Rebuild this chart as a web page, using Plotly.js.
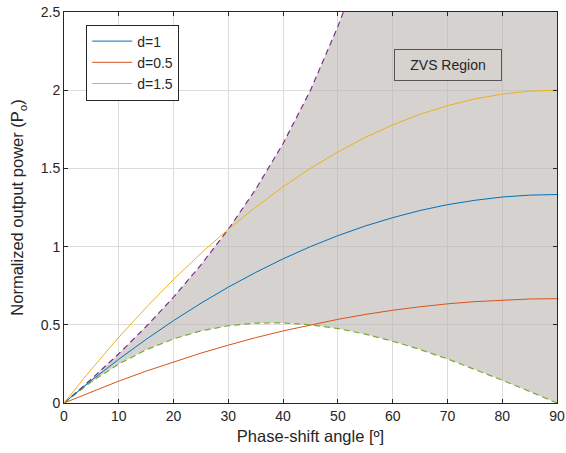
<!DOCTYPE html>
<html><head><meta charset="utf-8">
<script src="https://cdn.plot.ly/plotly-3.0.1.min.js"></script>
<style>html,body{margin:0;padding:0;background:#fff}#chart{width:566px;height:453px}</style>
</head><body><div id="chart"></div>
<script>
// Phase-shift angles (degrees)
const phase = [0,5,10,15,20,25,30,35,40,45,50,55,60,65,70,75,80,85,90];
// Normalized output power per series
const pD1   = [0,0.144,0.280,0.407,0.527,0.638,0.741,0.835,0.922,1.000,1.070,1.132,1.185,1.231,1.268,1.296,1.317,1.329,1.333];
const pD05  = [0,0.072,0.140,0.204,0.263,0.319,0.370,0.418,0.461,0.500,0.535,0.566,0.593,0.615,0.634,0.648,0.658,0.665,0.667];
const pD15  = [0,0.216,0.420,0.611,0.790,0.957,1.111,1.253,1.383,1.500,1.605,1.698,1.778,1.846,1.901,1.944,1.975,1.994,2.000];
// ZVS boundaries
const upperX = [0,5,10,15,20,25,30,35,40,45,50,51];
const upperY = [0,0.153,0.315,0.489,0.677,0.883,1.111,1.367,1.659,2.000,2.408,2.500];
const lowerY = [0,0.136,0.249,0.340,0.410,0.461,0.494,0.511,0.512,0.500,0.476,0.440,0.395,0.342,0.282,0.216,0.146,0.074,0];
const seriesNames = ['d=1','d=0.5','d=1.5'];
const yMax = 2.5, xMax = 90;

// Shaded ZVS region polygon: upper boundary, then axis top, then lower boundary back
const polyX = upperX.concat([xMax]).concat(phase.slice().reverse());
const polyY = upperY.concat([yMax]).concat(lowerY.slice().reverse());

const traces = [
  {x: polyX, y: polyY, type:'scatter', mode:'lines', fill:'toself',
   fillcolor:'rgba(185,180,175,0.6)', line:{width:0}, showlegend:false, hoverinfo:'skip'},
  {x: upperX, y: upperY, type:'scatter', mode:'lines', line:{color:'#7E2F8E', width:1.2, dash:'6px,4px'}, showlegend:false},
  {x: phase, y: lowerY, type:'scatter', mode:'lines', line:{color:'#77AC30', width:1.2, dash:'6px,4px'}, showlegend:false},
  {x: phase, y: pD1, type:'scatter', mode:'lines', name:seriesNames[0], line:{color:'#0072BD', width:1}},
  {x: phase, y: pD05, type:'scatter', mode:'lines', name:seriesNames[1], line:{color:'#D95319', width:1}},
  {x: phase, y: pD15, type:'scatter', mode:'lines', name:seriesNames[2], line:{color:'#EDB120', width:1}}
];

const axisCommon = {
  showgrid:true, gridcolor:'#dcdcdc', gridwidth:1,
  showline:true, linecolor:'#262626', linewidth:1, mirror:'ticks',
  ticks:'inside', ticklen:4, tickcolor:'#262626',
  zeroline:false, tickfont:{family:'Liberation Sans, Arial, sans-serif', size:14, color:'#262626'}
};

const layout = {
  width:566, height:453,
  margin:{l:64, r:9, t:12, b:50},
  paper_bgcolor:'#fff', plot_bgcolor:'#fff',
  font:{family:'Liberation Sans, Arial, sans-serif', color:'#262626'},
  xaxis: Object.assign({}, axisCommon, {range:[0,xMax], dtick:10, tick0:0,
    title:{text:'Phase-shift angle [º]', font:{size:16.5, color:'#262626'}, standoff:7}}),
  yaxis: Object.assign({}, axisCommon, {range:[0,yMax], dtick:0.5, tick0:0,
    title:{text:'Normalized output power (P<sub>o</sub>)', font:{size:16.5, color:'#262626'}, standoff:12}}),
  legend:{x:0.045, y:0.968, xanchor:'left', yanchor:'top', bgcolor:'#fff',
    bordercolor:'#262626', borderwidth:1, font:{size:14, color:'#262626'},
    tracegroupgap:0, itemwidth:40},
  annotations:[{x:70.1, y:2.164, xref:'x', yref:'y', text:'ZVS Region', showarrow:false,
    font:{size:14, color:'#262626'}, bgcolor:'#d6d3cf', bordercolor:'#555', borderwidth:1,
    width:96, height:20, borderpad:5}],
  showlegend:true
};
Plotly.newPlot('chart', traces, layout, {displayModeBar:false, staticPlot:true});
</script></body></html>
